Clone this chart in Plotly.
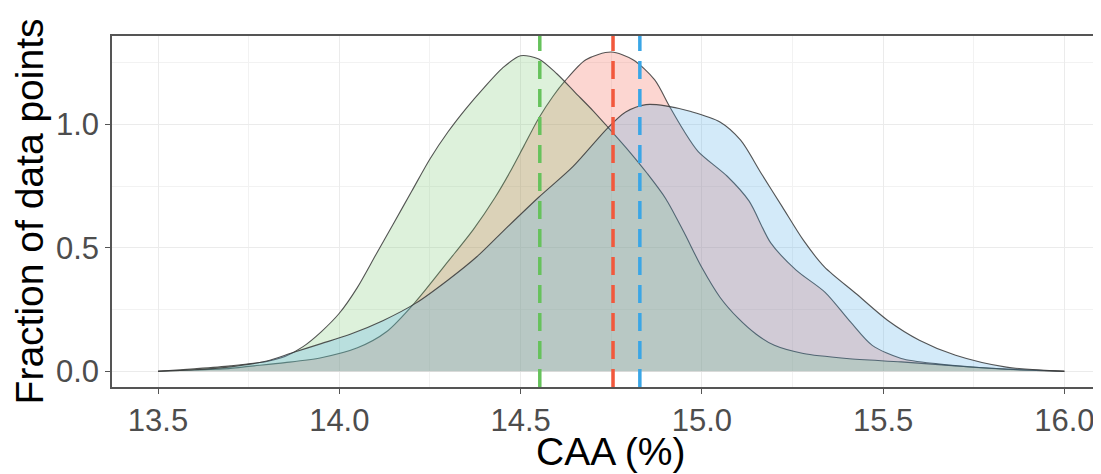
import plotly.graph_objects as go

# ---- data ----
green_x = [13.50, 13.60, 13.70, 13.80, 13.85, 13.90, 13.95, 14.00, 14.05, 14.10, 14.15, 14.20,
           14.25, 14.30, 14.35, 14.40, 14.45, 14.50, 14.55, 14.60, 14.65, 14.70, 14.74, 14.80,
           14.85, 14.90, 14.95, 15.00, 15.05, 15.10, 15.15, 15.20, 15.28, 15.40, 15.55, 15.70,
           15.85, 16.00]
green_y = [0.000, 0.010, 0.022, 0.040, 0.060, 0.100, 0.160, 0.235, 0.340, 0.470, 0.600, 0.730,
           0.860, 0.970, 1.065, 1.150, 1.228, 1.278, 1.265, 1.205, 1.130, 1.055, 0.990, 0.890,
           0.800, 0.700, 0.565, 0.420, 0.300, 0.215, 0.150, 0.105, 0.072, 0.052, 0.038, 0.022,
           0.008, 0.000]

red_x = [13.50, 13.60, 13.70, 13.75, 13.85, 13.95, 14.05, 14.13, 14.21, 14.30, 14.37, 14.43,
         14.47, 14.51, 14.55, 14.59, 14.622, 14.68, 14.75, 14.81, 14.87, 14.91, 14.95, 14.99,
         15.07, 15.13, 15.19, 15.26, 15.34, 15.41, 15.47, 15.55, 15.65, 15.80, 16.00]
red_y = [0.000, 0.005, 0.012, 0.020, 0.035, 0.055, 0.095, 0.160, 0.281, 0.445, 0.575, 0.705,
         0.805, 0.915, 1.025, 1.115, 1.175, 1.262, 1.293, 1.262, 1.180, 1.075, 0.975, 0.890,
         0.790, 0.690, 0.520, 0.410, 0.320, 0.200, 0.105, 0.052, 0.030, 0.012, 0.000]

blue_x = [13.50, 13.60, 13.70, 13.80, 13.87, 13.95, 14.03, 14.12, 14.21, 14.30, 14.38, 14.45,
          14.55, 14.645, 14.74, 14.79, 14.846, 14.90, 14.97, 15.05, 15.107, 15.164, 15.222,
          15.28, 15.338, 15.425, 15.512, 15.60, 15.70, 15.84, 16.00]
blue_y = [0.000, 0.006, 0.018, 0.042, 0.075, 0.112, 0.150, 0.205, 0.275, 0.370, 0.465, 0.565,
          0.705, 0.830, 0.985, 1.050, 1.080, 1.075, 1.052, 1.010, 0.936, 0.801, 0.666,
          0.531, 0.423, 0.315, 0.207, 0.126, 0.065, 0.017, 0.000]

group_means = {"red": 14.755, "green": 14.553, "blue": 14.829}

x_ticks = [13.5, 14.0, 14.5, 15.0, 15.5, 16.0]
y_ticks = [0.0, 0.5, 1.0]

x_title = "CAA (%)"
y_title = "Fraction of data points"

# ---- styles ----
fill_cols = {"red": "rgba(245,90,70,0.25)", "green": "rgba(120,200,110,0.25)",
             "blue": "rgba(80,170,230,0.25)"}
line_cols = {"red": "#F2583C", "green": "#66C25C", "blue": "#3AA6E6"}

series = [("red", red_x, red_y), ("green", green_x, green_y), ("blue", blue_x, blue_y)]

fig = go.Figure()
for name, xs, ys in series:
    fig.add_trace(go.Scatter(
        x=xs, y=ys, mode="lines", fill="tozeroy", fillcolor=fill_cols[name],
        line=dict(color="rgba(55,55,55,0.85)", width=1.1, shape="spline", smoothing=0.8),
        showlegend=False, hoverinfo="skip"))

for name, m in group_means.items():
    fig.add_shape(type="line", xref="x", yref="y domain", x0=m, x1=m, y0=0, y1=1,
                  line=dict(color=line_cols[name], width=3.5, dash="18px,10px"),
                  layer="above")

grid_major = "#EBEBEB"
font_family = "Liberation Sans, Arial, sans-serif"
axis_font = dict(family=font_family, size=31, color="#4D4D4D")
title_font = dict(family=font_family, size=39, color="#000000")

# the page body has an 8px margin, so the figure is 8px smaller than the window
fig.add_annotation(text=x_title, xref="paper", yref="paper", x=0.5045, y=-0.185,
                   xanchor="center", yanchor="middle", showarrow=False, font=title_font)
fig.add_annotation(text=y_title, xref="paper", yref="paper", x=-0.083, y=0.5,
                   xanchor="center", yanchor="middle", textangle=-90, showarrow=False,
                   font=title_font)

fig.update_layout(
    width=1093, height=466,
    margin=dict(l=104, r=0, t=28, b=87, pad=0),
    paper_bgcolor="white", plot_bgcolor="white",
    showlegend=False,
    xaxis=dict(
        range=[13.373, 16.101], tickvals=x_ticks, tickformat=".1f", automargin=False,
        showgrid=True, gridcolor=grid_major, gridwidth=1.2,
        minor=dict(dtick=0.25, tick0=13.5, showgrid=True, gridcolor="#F2F2F2", gridwidth=0.8),
        showline=True, linecolor="#555555", linewidth=1.5, mirror=True,
        ticks="outside", ticklen=5, tickwidth=1.2, tickcolor="#555555",
        tickfont=axis_font, zeroline=False,
    ),
    yaxis=dict(
        range=[-0.0636, 1.358], tickvals=y_ticks, tickformat=".1f", automargin=False,
        showgrid=True, gridcolor=grid_major, gridwidth=1.2,
        minor=dict(dtick=0.25, tick0=0, showgrid=True, gridcolor="#F2F2F2", gridwidth=0.8),
        showline=True, linecolor="#555555", linewidth=1.5, mirror=False,
        ticks="outside", ticklen=5, tickwidth=1.2, tickcolor="#555555",
        tickfont=axis_font, zeroline=False,
    ),
)

fig.write_html("out.html")
